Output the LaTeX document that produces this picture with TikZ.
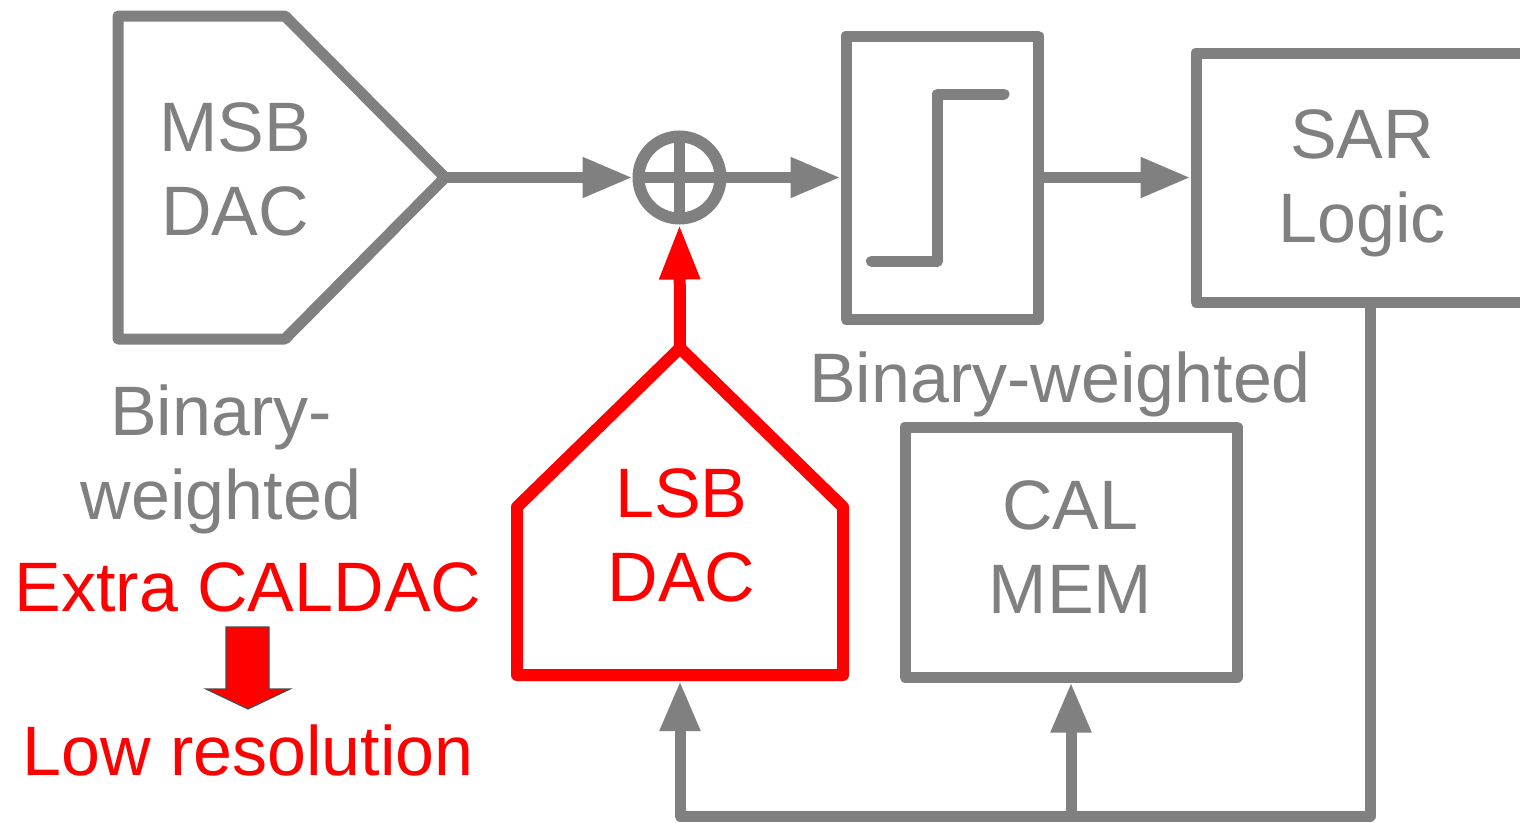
\documentclass[tikz,border=0pt]{standalone}
\usepackage{fontspec}
\setmainfont{Liberation Sans}
\usetikzlibrary{arrows.meta,calc}
\definecolor{sgray}{HTML}{808080}
\definecolor{sred}{HTML}{FF0000}
\begin{document}
\begin{tikzpicture}[x=1pt,y=-1pt,
  font=\fontsize{70}{84}\selectfont,
  wire/.style={draw=sgray,line width=11pt,line join=round,line cap=round},
  redwire/.style={draw=sred,line width=12pt,line join=round,line cap=round},
  flow/.style={wire,-{Triangle[length=50pt,width=38pt]}},
  redflow/.style={redwire,-{Triangle[length=55pt,width=38pt]}},
  box/.style={rectangle,draw=sgray,line width=11pt,line join=round,inner sep=0pt},
  gtext/.style={text=sgray,inner sep=0pt},
  rtext/.style={text=sred,inner sep=0pt},
  blockarrow/.style={fill=sred,draw=black!70,line width=1.2pt,line join=miter}
]
\useasboundingbox (0,0) rectangle (1520,822);

% MSB DAC (pentagon pointing right)
\coordinate (msbtip) at (445,177.5);
\draw[wire] (118,16) -- (285,16) -- (msbtip) -- (285,339) -- (118,339) -- cycle;
\node[gtext,align=center] (msbtxt) at (235,169.5) {MSB\\DAC};

% summing junction
\node[circle,draw=sgray,line width=12pt,minimum size=82pt,inner sep=0pt] (sum) at (679.5,177.5) {};
\draw[wire,line cap=butt] ([yshift=41pt]sum.center) -- ([yshift=-41pt]sum.center);
\draw[wire,line cap=butt] ([xshift=-41pt]sum.center) -- ([xshift=41pt]sum.center);

% comparator with step symbol
\node[box,minimum width=192pt,minimum height=283pt] (cmp) at (942,177.5) {};
\draw[wire] (871.5,261) -- (937.5,261) -- (937.5,94) -- (1004,94);

% SAR logic
\node[box,minimum width=332pt,minimum height=249pt] (sar) at (1362,177.5) {};
\node[gtext,align=center] (sartxt) at (1362,183.5) {SAR\\Logic};

% CAL memory
\node[box,minimum width=332pt,minimum height=250pt] (cal) at (1071,552) {};
\node[gtext,align=center] (caltxt) at (1070.5,547.5) {CAL\\MEM};

% LSB DAC (pentagon pointing up)
\coordinate (lsbtip) at (680,348);
\coordinate (lsbbot) at (680,681);
\draw[redwire] (lsbtip) -- (843,507) -- (843,675) -- (517,675) -- (517,507) -- cycle;
\node[rtext,align=center] (lsbtxt) at (681.5,535.5) {LSB\\DAC};

% signal path
\draw[flow] (msbtip) -- (sum.west);
\draw[flow] (sum.east) -- (cmp.west);
\draw[flow] (cmp.east) -- (sar.west);
\draw[redflow] (lsbtip) -- (sum.south);

% feedback from SAR logic
\coordinate (fbr) at (1370,816);
\draw[flow] (sar.south -| fbr) -- (fbr) -| (lsbbot);
\draw[flow] (cal.south |- fbr) -- (cal.south);

% annotations
\node[gtext,align=center] (msbnote) at (221,459) {Binary-\\weighted};
\node[gtext,anchor=base] (cmpnote) at (1060,402) {Binary-weighted};
\node[rtext,anchor=base] (extra) at (248,611) {Extra CALDAC};
\node[rtext,anchor=base] (lowres) at (248,775) {Low resolution};
\draw[blockarrow] (226,627) -- (269,627) -- (269,689) -- (290,689) -- (248,709) -- (206,689) -- (226,689) -- cycle;
\end{tikzpicture}
\end{document}
